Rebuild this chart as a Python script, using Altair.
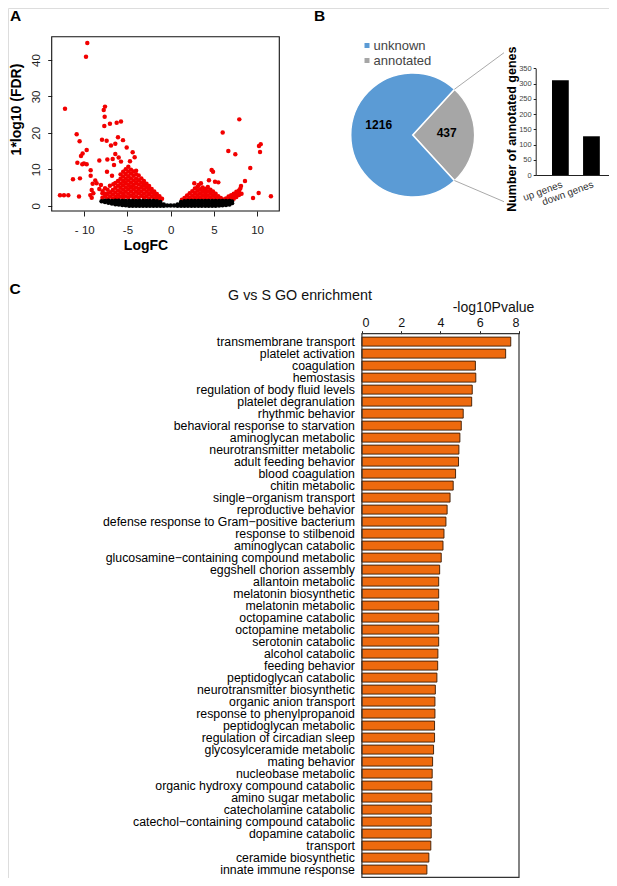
import math
import altair as alt
import pandas as pd

FONT = "Liberation Sans"
W, H = 601, 870
RED = "#f20000"
BLUE = "#5b9bd5"
GRAY = "#a6a6a6"
ORANGE = "#ee6a0e"

# ---------------- Panel A: volcano plot ----------------
red_scatter = [
    (-9.65, 44.7), (-9.8, 40.9), (-12.23, 26.6), (-7.6, 27.2), (-7.75, 26.3), (-7.64, 24.4),
    (-7.68, 21.9), (-7.03, 22.5), (-6.25, 22.8), (-5.75, 23.1), (-10.88, 19.6), (-10.54, 17.7),
    (-7.95, 18.1), (-7.41, 17.8), (-6.1, 18.8), (-5.52, 18.0), (-6.41, 17.0), (-6.91, 16.5),
    (-5.09, 16.0), (-9.72, 15.3), (-10.19, 14.3), (-10.38, 13.65), (-6.41, 14.2), (-4.4, 14.7),
    (-4.17, 13.3), (-10.8, 11.8), (-10.23, 11.4), (-9.72, 11.4), (-10.04, 11.6), (-8.26, 12.4),
    (-7.33, 12.7), (-6.56, 11.2), (-6.71, 12.8), (-6.02, 13.2), (-5.75, 12.1), (-4.71, 12.2),
    (-9.26, 9.7), (-7.37, 9.3), (-6.79, 8.2), (-9.26, 8.2), (-11.31, 7.25), (-10.5, 7.5),
    (-8.73, 6.9), (-8.57, 6.15), (-9.03, 6.0), (-8.07, 5.7), (-7.03, 5.5), (-6.64, 5.9),
    (-9.14, 4.3), (-8.26, 4.6), (-7.87, 4.0), (-7.6, 3.3), (-8.95, 3.4), (-9.14, 2.2),
    (-12.81, 2.85), (-12.35, 2.85), (-11.85, 2.85), (-10.61, 2.5), (-9.3, 2.9),
    (7.94, 23.7), (6.02, 20.1), (10.42, 16.9), (10.22, 16.4), (10.34, 14.75), (6.67, 15.0),
    (7.48, 14.1), (9.21, 10.36), (4.74, 9.8), (4.9, 9.3), (4.43, 6.97), (2.73, 6.15),
    (5.13, 6.6), (5.51, 6.4), (8.6, 6.8), (8.14, 5.4), (8.06, 4.7), (9.53, 2.1),
    (10.18, 3.5), (11.6, 2.58), (3.5, 6.15), (3.24, 5.7), (4.0, 4.6),
]
red_left_cols = [
    (-7.9, [2.2, 3.4]), (-7.6, [2.6, 4.8]), (-7.3, [2.0, 3.2, 4.4]), (-7.0, [2.5, 3.7]),
    (-6.7, [1.9, 3.1, 4.3]), (-6.4, [2.4, 3.6, 4.9, 6.2]), (-6.1, [2.0, 3.0, 4.2, 5.5, 6.8]),
    (-5.8, [2.5, 3.7, 4.9, 6.1, 7.4, 8.6]), (-5.5, [2.1, 3.2, 4.4, 5.6, 6.8, 8.0, 9.3]),
    (-5.2, [2.6, 3.8, 5.0, 6.2, 7.4, 8.7, 10.0]), (-4.9, [2.2, 3.3, 4.5, 5.7, 6.9, 8.1, 9.4, 10.7]),
    (-4.6, [2.7, 3.9, 5.1, 6.3, 7.5, 8.8, 9.9]), (-4.3, [2.1, 3.3, 4.5, 5.7, 6.9, 8.2, 9.4]),
    (-4.0, [2.6, 3.8, 5.0, 6.2, 7.4, 8.6, 9.6]), (-3.7, [2.2, 3.4, 4.6, 5.8, 7.0, 8.3]),
    (-3.4, [2.7, 3.9, 5.1, 6.3, 7.5]), (-3.1, [2.1, 3.3, 4.5, 5.7, 6.8]),
    (-2.8, [2.6, 3.8, 5.0, 6.0]), (-2.5, [2.0, 3.2, 4.4, 5.4]), (-2.2, [2.5, 3.6, 4.6]),
    (-1.9, [1.9, 3.0, 3.9]), (-1.6, [2.4, 3.2]), (-1.3, [1.8, 2.6]), (-1.0, [1.9]),
]
red_right_cols = [
    (1.3, [1.6]), (1.6, [2.1]), (1.9, [1.7, 2.8]), (2.2, [2.2, 3.4]), (2.5, [1.7, 2.8, 4.0]),
    (2.8, [2.3, 3.5, 4.7]), (3.1, [1.8, 2.9, 4.1, 5.2]), (3.4, [2.3, 3.4, 4.5]),
    (3.7, [1.8, 2.9, 4.0, 5.0]), (4.0, [2.4, 3.5, 4.6]), (4.3, [1.8, 2.9, 4.0, 5.1]),
    (4.6, [2.3, 3.5, 4.4]), (4.9, [1.8, 2.9, 3.9]), (5.2, [2.3, 3.3]), (5.5, [1.8, 2.6]),
    (5.8, [2.1]), (6.1, [1.7]), (6.4, [2.0]), (6.7, [1.8, 2.5]), (7.0, [2.2, 2.9]),
    (7.3, [1.9, 2.6, 3.3]), (7.6, [2.4, 3.1, 3.8]), (7.9, [2.9, 3.6, 4.2]), (8.2, [3.3]),
]
black_cols = [
    (-8.0, [1.2]), (-7.6, [1.0, 1.35]), (-7.2, [0.8, 1.35]), (-6.8, [0.6, 1.3]),
    (-6.4, [0.4, 1.0, 1.35]), (-6.0, [0.3, 0.9, 1.35]), (-5.6, [0.2, 0.8, 1.3]), (-5.2, [0.1, 0.7, 1.3]),
    (-4.8, [0.0, 0.65, 1.3]), (-4.4, [0.0, 0.65, 1.3]), (-4.0, [0.0, 0.65, 1.3]), (-3.6, [0.0, 0.65, 1.3]),
    (-3.2, [0.0, 0.65, 1.3]), (-2.8, [0.0, 0.65, 1.3]), (-2.4, [0.0, 0.65, 1.3]), (-2.0, [0.0, 0.65, 1.3]),
    (-1.6, [0.0, 0.6, 1.2]), (-1.2, [0.0, 0.5, 1.0]), (-0.8, [0.0, 0.35]), (-0.4, [0.05]),
    (0.0, [0.05]), (0.4, [0.05]), (0.8, [0.0, 0.35]), (1.2, [0.0, 0.5, 1.0]), (1.6, [0.0, 0.6, 1.25]),
    (2.0, [0.0, 0.65, 1.3]), (2.4, [0.0, 0.65, 1.3]), (2.8, [0.0, 0.65, 1.3]), (3.2, [0.0, 0.65, 1.3]),
    (3.6, [0.0, 0.65, 1.3]), (4.0, [0.0, 0.65, 1.3]), (4.4, [0.0, 0.65, 1.3]), (4.8, [0.0, 0.65, 1.3]),
    (5.2, [0.0, 0.65, 1.3]), (5.6, [0.05, 0.7, 1.3]), (6.0, [0.1, 0.75, 1.3]), (6.4, [0.2, 0.8, 1.3]),
    (6.8, [0.35, 0.9, 1.3]), (7.1, [0.7, 1.15]),
]
a_xticks = [-10, -5, 0, 5, 10]
a_yticks = [0, 10, 20, 30, 40]

# ---------------- Panel B ----------------
pie_cat = ["annotated", "unknown"]
pie_val = [437, 1216]
pie_order = [0, 1]
bar_cat = ["up genes", "down genes"]
bar_val = [311, 127]
b_yticks = [0, 50, 100, 150, 200, 250, 300, 350]

# ---------------- Panel C ----------------
go_terms = [
    "transmembrane transport", "platelet activation", "coagulation", "hemostasis",
    "regulation of body fluid levels", "platelet degranulation", "rhythmic behavior",
    "behavioral response to starvation", "aminoglycan metabolic", "neurotransmitter metabolic",
    "adult feeding behavior", "blood coagulation", "chitin metabolic", "single\u2212organism transport",
    "reproductive behavior", "defense response to Gram\u2212positive bacterium", "response to stilbenoid",
    "aminoglycan catabolic", "glucosamine\u2212containing compound metabolic", "eggshell chorion assembly",
    "allantoin metabolic", "melatonin biosynthetic", "melatonin metabolic", "octopamine catabolic",
    "octopamine metabolic", "serotonin catabolic", "alcohol catabolic", "feeding behavior",
    "peptidoglycan catabolic", "neurotransmitter biosynthetic", "organic anion transport",
    "response to phenylpropanoid", "peptidoglycan metabolic", "regulation of circadian sleep",
    "glycosylceramide metabolic", "mating behavior", "nucleobase metabolic",
    "organic hydroxy compound catabolic", "amino sugar metabolic", "catecholamine catabolic",
    "catechol\u2212containing compound catabolic", "dopamine catabolic", "transport",
    "ceramide biosynthetic", "innate immune response",
]
go_vals = [7.58, 7.32, 5.78, 5.80, 5.62, 5.59, 5.16, 5.06, 4.99, 4.94, 4.92, 4.77, 4.65, 4.49,
           4.34, 4.28, 4.18, 4.13, 4.04, 3.96, 3.91, 3.91, 3.91, 3.91, 3.91, 3.91, 3.87, 3.86,
           3.82, 3.74, 3.72, 3.72, 3.70, 3.70, 3.65, 3.60, 3.58, 3.56, 3.56, 3.53, 3.53, 3.53,
           3.51, 3.41, 3.31]
c_xticks = [0, 2, 4, 6, 8]

# ---------------- data frames ----------------
red_rows = list(red_scatter) + [(x, y) for x, ys in red_left_cols + red_right_cols for y in ys]
red_df = pd.DataFrame(red_rows, columns=["logfc", "fdr"])
black_df = pd.DataFrame([(x, y) for x, ys in black_cols for y in ys], columns=["logfc", "fdr"])
pie_df = pd.DataFrame({"cat": pie_cat, "val": pie_val, "ord": pie_order})
bar_df = pd.DataFrame({"cat": bar_cat, "val": bar_val})
go_df = pd.DataFrame({"term": go_terms, "val": go_vals})
one = pd.DataFrame({"a": [0]})

# ---------------- scales (pixel ranges place each panel) ----------------
A_x = alt.Scale(domain=[-13.77, 12.57], range=[43.7, 271.3], nice=False, zero=False)
A_y = alt.Scale(domain=[-1.46, 46.4], range=[203.0, 28.7], nice=False, zero=False)
B_x = alt.Scale(domain=bar_cat, range=[527.7, 601.0], paddingInner=0.46, paddingOuter=0.41, align=0.64)
B_y = alt.Scale(domain=[0, 350], range=[167.0, 60.3], nice=False, zero=True)
START = 0.740
THETA = alt.Scale(domain=[0, sum(pie_val)], range=[START, START + 2 * math.pi])
C_x = alt.Scale(domain=[0, 8], range=[353.9, 511.0], nice=False, zero=True)
C_y = alt.Scale(domain=go_terms, range=[325.7, 869.5], paddingInner=0.25, paddingOuter=0.285)

PIE_CX, PIE_CY = 404.7, 127.0

layers = []

# ---- A ----
a_red = alt.Chart(red_df).mark_circle(size=20, opacity=1, color=RED).encode(
    x=alt.X("logfc:Q", scale=A_x, axis=alt.Axis(
        orient="bottom", offset=-(H - 203.0), values=a_xticks,
        labelExpr="datum.value == -10 ? '- 10' : (datum.value < 0 ? '-' + abs(datum.value) : '' + datum.value)",
        tickSize=5, tickColor="#222", labelPadding=8, labelFontSize=11.5, labelFont=FONT,
        labelColor="#222", domain=False, grid=False, title="LogFC", titleFont=FONT,
        titleFontSize=14, titleFontWeight="bold", titleColor="black", titleX=137.5, titleY=34,
        titleAlign="center", titleBaseline="middle")),
    y=alt.Y("fdr:Q", scale=A_y, axis=alt.Axis(
        orient="left", offset=-43.7, values=a_yticks, labelAngle=-90, labelAlign="center",
        labelBaseline="bottom", tickSize=4, tickColor="#222", labelPadding=6, labelFontSize=11.5,
        labelFont=FONT, labelColor="#222", domain=False, grid=False, title="1*log10 (FDR)",
        titleFont=FONT, titleFontSize=14, titleFontWeight="bold", titleColor="black",
        titleX=-35.2, titleY=101, titleAngle=-90, titleAlign="center", titleBaseline="middle")),
)
a_black = alt.Chart(black_df).mark_circle(size=20, opacity=1, color="black").encode(
    x=alt.X("logfc:Q", scale=A_x, axis=None),
    y=alt.Y("fdr:Q", scale=A_y, axis=None),
)
a_frame = alt.Chart(one).mark_rect(fillOpacity=0, stroke="#111", strokeWidth=1.1).encode(
    x=alt.value(43.7), x2=alt.value(271.3), y=alt.value(28.7), y2=alt.value(203.0))
layers += [a_red, a_black, a_frame]

# ---- B: pie ----
pie = alt.Chart(pie_df).mark_arc(outerRadius=62, stroke="white", strokeWidth=1.5).encode(
    theta=alt.Theta("val:Q", stack=True, scale=THETA),
    color=alt.Color("cat:N", scale=alt.Scale(domain=["unknown", "annotated"], range=[BLUE, GRAY]),
                    legend=alt.Legend(orient="none", legendX=352.5, legendY=31, title=None,
                                      symbolType="square", symbolSize=25, symbolStrokeWidth=0,
                                      labelFontSize=13, labelFont=FONT, labelColor="#444",
                                      padding=0, rowPadding=1, labelOffset=0)),
    order=alt.Order("ord:Q"),
    x=alt.value(PIE_CX), y=alt.value(PIE_CY),
)
pie_txt_u = alt.Chart(pie_df).mark_text(radius=34, fontSize=12, fontWeight="bold", font=FONT,
                                        color="black", dy=-10).encode(
    theta=alt.Theta("val:Q", stack=True, scale=THETA),
    order=alt.Order("ord:Q"),
    text=alt.condition(alt.datum.cat == "unknown", alt.Text("val:Q"), alt.value("")),
    x=alt.value(PIE_CX), y=alt.value(PIE_CY),
)
pie_txt_a = alt.Chart(pie_df).mark_text(radius=34, fontSize=12, fontWeight="bold", font=FONT,
                                        color="black", dy=-2).encode(
    theta=alt.Theta("val:Q", stack=True, scale=THETA),
    order=alt.Order("ord:Q"),
    text=alt.condition(alt.datum.cat == "annotated", alt.Text("val:Q"), alt.value("")),
    x=alt.value(PIE_CX), y=alt.value(PIE_CY),
)
conn1 = alt.Chart(one).mark_rule(color="#aaaaaa", strokeWidth=1).encode(
    x=alt.value(446.4), y=alt.value(81.3), x2=alt.value(496.0), y2=alt.value(44.7))
conn2 = alt.Chart(one).mark_rule(color="#aaaaaa", strokeWidth=1).encode(
    x=alt.value(446.4), y=alt.value(172.5), x2=alt.value(496.0), y2=alt.value(193.7))
layers += [pie, pie_txt_u, pie_txt_a, conn1, conn2]

# ---- B: bar ----
b_bar = alt.Chart(bar_df).mark_bar(color="black").encode(
    x=alt.X("cat:N", scale=B_x, axis=alt.Axis(
        orient="bottom", offset=-(H - 167.0), labelAngle=-20, labelAlign="right", labelBaseline="top",
        labelFontSize=10, labelFont=FONT, labelColor="#333", labelPadding=4, ticks=False,
        domainColor="#222", title=None)),
    y=alt.Y("val:Q", scale=B_y, axis=alt.Axis(
        orient="left", offset=-527.7, values=b_yticks, labelFontSize=7.5, labelFont=FONT,
        labelColor="#444", tickSize=2.5, tickColor="#222", domainColor="#222", labelPadding=2,
        grid=False, title="Number of annotated genes", titleFont=FONT, titleFontSize=12.5,
        titleFontWeight="bold", titleColor="black", titleX=-24.7, titleY=120.7, titleAngle=-90,
        titleAlign="center", titleBaseline="middle")),
)
layers += [b_bar]

# ---- C ----
c_bar = alt.Chart(go_df).mark_bar(fill=ORANGE, stroke="#3a1a00", strokeWidth=0.9).encode(
    x=alt.X("val:Q", scale=C_x, axis=alt.Axis(
        orient="top", offset=-325.7, values=c_xticks, tickSize=3, tickColor="#222", labelPadding=1,
        labelFontSize=12.5, labelFont=FONT, labelColor="#111", domain=False, grid=False,
        title="-log10Pvalue", titleFont=FONT, titleFontSize=14, titleFontWeight="normal",
        titleColor="#111", titleX=485, titleY=-26.6, titleAlign="center", titleBaseline="middle")),
    y=alt.Y("term:N", scale=C_y, axis=alt.Axis(
        orient="left", offset=-353.9, ticks=False, domain=False, labelFontSize=12.3, labelFont=FONT,
        labelColor="black", labelPadding=7.5, labelLimit=400, labelOverlap=False, title=None)),
)
c_frame = alt.Chart(one).mark_rect(fillOpacity=0, stroke="#333", strokeWidth=1.2).encode(
    x=alt.value(353.9), x2=alt.value(511.0), y=alt.value(325.7), y2=alt.value(869.3))
c_title = alt.Chart(one).mark_text(text="G vs S GO enrichment", font=FONT, fontSize=14.3,
                                   color="#111", align="center", baseline="middle").encode(
    x=alt.value(292), y=alt.value(288))
layers += [c_bar, c_frame, c_title]

# ---- panel letters ----
for letter, lx, ly in [("A", 7.5, 8.0), ("B", 311.5, 8.0), ("C", 7.0, 281)]:
    layers.append(alt.Chart(one).mark_text(text=letter, font=FONT, fontSize=15.5, fontWeight="bold",
                                           color="black", align="center", baseline="middle").encode(
        x=alt.value(lx), y=alt.value(ly)))

chart = alt.layer(*layers).resolve_scale(
    x="independent", y="independent", color="independent", theta="independent"
).resolve_axis(x="independent", y="independent").properties(
    width=W, height=H, autosize=alt.AutoSizeParams(type="none"), padding=0
).configure_view(stroke=None).configure(font=FONT)

chart.save("out.html", embed_options={"renderer": "svg", "actions": False})
